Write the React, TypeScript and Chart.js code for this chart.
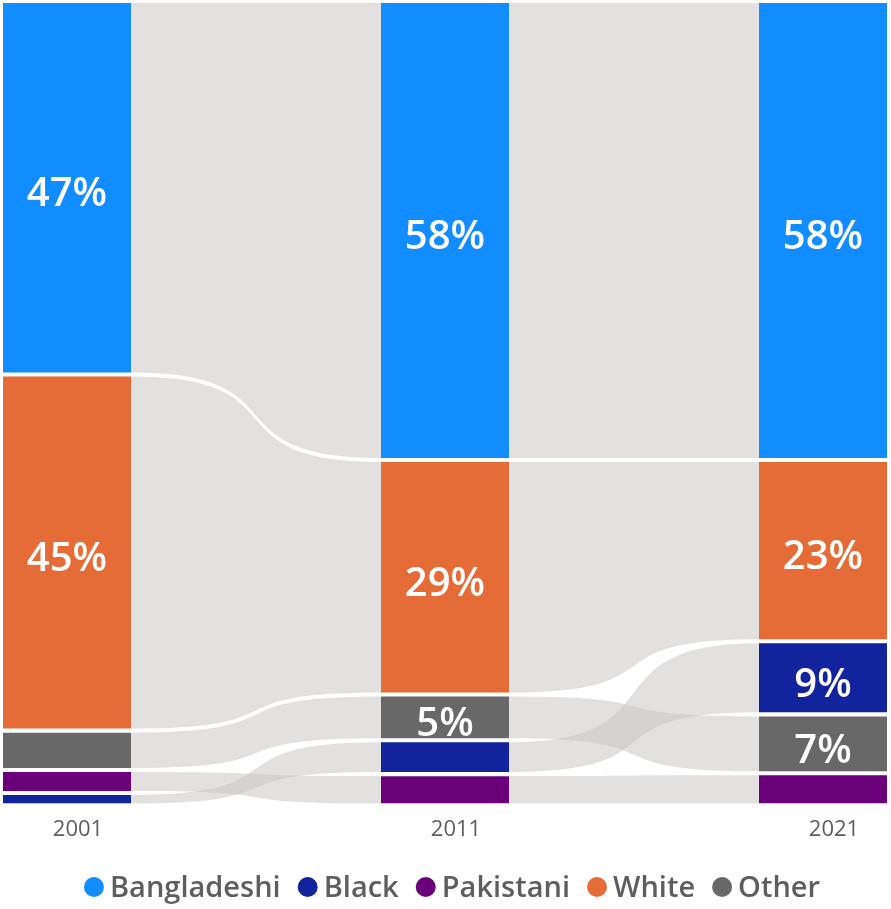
import React, { useEffect, useRef } from 'react';
import { Chart, registerables } from 'chart.js';

Chart.register(...registerables);

// ---- data ----
const YEARS = ['2001', '2011', '2021'];
const CATEGORIES = ['Bangladeshi', 'Black', 'Pakistani', 'White', 'Other'];
const BANGLADESHI = [47.1, 58.0, 58.0];
const BLACK = [1.1, 3.8, 8.8];
const PAKISTANI = [2.4, 3.5, 3.6];
const WHITE = [44.9, 29.4, 22.6];
const OTHER = [4.5, 5.3, 7.0];
const SERIES = [BANGLADESHI, BLACK, PAKISTANI, WHITE, OTHER];

// ---- style ----
const COLORS = ['#118DFF', '#12239E', '#6B007B', '#E66C37', '#686868'];
const RIBBON = 'rgba(202,200,198,0.55)';
const TEXT_GREY = '#605E5C';
const FONT = "'Open Sans', 'Noto Sans', sans-serif";
const LABEL_MIN = 5;
const GAP = 0.52;
const BAR_FRACTION = 128 / 378;
const CURVE_K = 0.7;
const W = 891;
const H = 909;

const TOTAL = 100 + GAP * (CATEGORIES.length - 1);

function buildRanges(): [number, number][][] {
  const ranges: [number, number][][] = SERIES.map(() => []);
  YEARS.forEach((_, yi) => {
    const order = SERIES.map((_, si) => si).sort((a, b) => SERIES[b][yi] - SERIES[a][yi]);
    let cum = 0;
    order.forEach((si) => {
      const v = SERIES[si][yi];
      ranges[si][yi] = [cum, cum + v];
      cum += v + GAP;
    });
  });
  return ranges;
}

const ribbonPlugin = {
  id: 'ribbons',
  beforeDatasetsDraw(chart: any) {
    const ctx = chart.ctx;
    ctx.save();
    ctx.fillStyle = RIBBON;
    chart.data.datasets.forEach((_: any, di: number) => {
      const meta = chart.getDatasetMeta(di);
      for (let i = 0; i < meta.data.length - 1; i++) {
        const a = meta.data[i].getProps(['x', 'y', 'base', 'width'], true);
        const b = meta.data[i + 1].getProps(['x', 'y', 'base', 'width'], true);
        const x0 = a.x + a.width / 2;
        const x1 = b.x - b.width / 2;
        const t0 = Math.min(a.y, a.base), b0 = Math.max(a.y, a.base);
        const t1 = Math.min(b.y, b.base), b1 = Math.max(b.y, b.base);
        const dx = (x1 - x0) * CURVE_K;
        ctx.beginPath();
        ctx.moveTo(x0, t0);
        ctx.bezierCurveTo(x0 + dx, t0, x1 - dx, t1, x1, t1);
        ctx.lineTo(x1, b1);
        ctx.bezierCurveTo(x1 - dx, b1, x0 + dx, b0, x0, b0);
        ctx.closePath();
        ctx.fill();
      }
    });
    ctx.restore();
  },
};

const labelPlugin = {
  id: 'segLabels',
  afterDatasetsDraw(chart: any) {
    const ctx = chart.ctx;
    const size = 40;
    ctx.save();
    ctx.font = `600 ${size}px ${FONT}`;
    ctx.fillStyle = '#FFFFFF';
    ctx.textAlign = 'center';
    ctx.textBaseline = 'alphabetic';
    chart.data.datasets.forEach((_: any, di: number) => {
      const meta = chart.getDatasetMeta(di);
      meta.data.forEach((el: any, i: number) => {
        const v = SERIES[di][i];
        if (v < LABEL_MIN) return;
        const p = el.getProps(['x', 'y', 'base'], true);
        const cy = (p.y + p.base) / 2;
        ctx.fillText(`${Math.round(v)}%`, p.x, cy + size * 0.357 + 4.5);
      });
    });
    ctx.restore();
  },
};

const legendPlugin = {
  id: 'customLegend',
  afterDraw(chart: any) {
    const ctx = chart.ctx;
    const size = 29;
    const r = 10;
    const gapText = 6;
    const gapItem = 17;
    const cy = 887;
    ctx.save();
    ctx.font = `600 ${size}px ${FONT}`;
    const widths = CATEGORIES.map((c) => ctx.measureText(c).width);
    const total = widths.reduce((s, w) => s + 2 * r + gapText + w, 0) + gapItem * (CATEGORIES.length - 1);
    let x = 452 - total / 2;
    CATEGORIES.forEach((c, i) => {
      ctx.fillStyle = chart.data.datasets[i].backgroundColor;
      ctx.beginPath();
      ctx.arc(x + r, cy, r, 0, Math.PI * 2);
      ctx.fill();
      x += 2 * r + gapText;
      ctx.fillStyle = TEXT_GREY;
      ctx.textAlign = 'left';
      ctx.textBaseline = 'alphabetic';
      ctx.fillText(c, x, cy + 10);
      x += widths[i] + gapItem;
    });
    ctx.restore();
  },
};

export default function App() {
  const ref = useRef<HTMLCanvasElement | null>(null);

  useEffect(() => {
    if (!ref.current) return;
    const ranges = buildRanges();
    const chart = new Chart(ref.current, {
      type: 'bar',
      data: {
        datasets: SERIES.map((_, si) => ({
          label: CATEGORIES[si],
          data: YEARS.map((_, yi) => ({ x: yi, y: ranges[si][yi] })),
          backgroundColor: COLORS[si],
          borderWidth: 0,
          grouped: false,
          barPercentage: 1,
          categoryPercentage: BAR_FRACTION,
        })) as any,
      },
      options: {
        animation: false,
        responsive: false,
        maintainAspectRatio: false,
        layout: { padding: { left: 3, right: 4, top: 3, bottom: 53 } },
        plugins: {
          legend: { display: false },
          tooltip: { enabled: false },
        },
        scales: {
          x: {
            type: 'linear',
            offset: false,
            min: -BAR_FRACTION / 2,
            max: YEARS.length - 1 + BAR_FRACTION / 2,
            afterBuildTicks: (axis: any) => {
              axis.ticks = YEARS.map((_, i) => ({ value: i }));
            },
            grid: { display: false, drawTicks: false },
            border: { display: false },
            ticks: {
              autoSkip: false,
              maxRotation: 0,
              padding: 13,
              labelOffset: 11,
              color: TEXT_GREY,
              font: { family: FONT, size: 22 },
              callback: (v: any) => YEARS[v as number] ?? '',
            },
          },
          y: {
            type: 'linear',
            display: false,
            min: 0,
            max: TOTAL,
            reverse: true,
          },
        },
      } as any,
      plugins: [ribbonPlugin, labelPlugin, legendPlugin],
    });
    return () => chart.destroy();
  }, []);

  return (
    <div style={{ position: 'absolute', left: 0, top: 0, width: W, height: H, background: '#fff' }}>
      <canvas ref={ref} width={W} height={H} style={{ display: 'block', width: W, height: H }} />
    </div>
  );
}
